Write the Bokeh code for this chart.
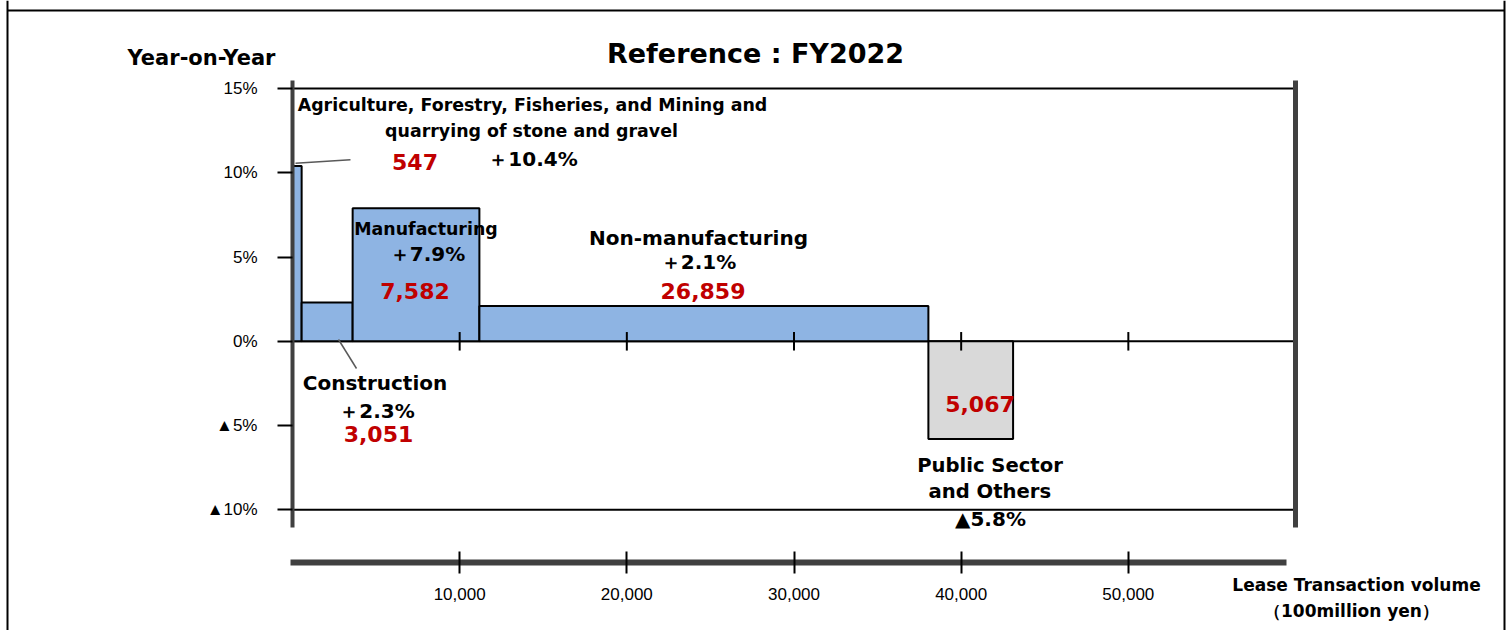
from bokeh.plotting import figure
from bokeh.models import ColumnDataSource, FixedTicker, LinearAxis, Range1d
from bokeh.core.properties import value
from bokeh.embed import file_html
from bokeh.resources import INLINE

# ---------------- data ----------------
categories = ["Agriculture, Forestry, Fisheries, and Mining and quarrying of stone and gravel",
              "Construction", "Manufacturing", "Non-manufacturing", "Public Sector and Others"]
volumes = [547, 3051, 7582, 26859, 5067]          # 100 million yen
yoy = [10.4, 2.3, 7.9, 2.1, -5.8]                  # % year-on-year
bar_colors = ["#8EB4E3", "#8EB4E3", "#8EB4E3", "#8EB4E3", "#D9D9D9"]

y_ticks = [-10, -5, 0, 5, 10, 15]
y_tick_labels = ["▲10%", "▲5%", "0%", "5%", "10%", "15%"]
x_ticks = [10000, 20000, 30000, 40000, 50000]
x_tick_labels = ["10,000", "20,000", "30,000", "40,000", "50,000"]
ref_lines = [15, 0, -10]

title_text = "Reference : FY2022"
y_title = "Year-on-Year"
x_title = ["Lease Transaction volume", "（100million yen）"]

# ---------------- layout (page pixels) ----------------
W, H = 1506, 630
X0_PX, X_END_PX = 292, 1295          # pixel of x = 0 and x = 60000
X_MAX = 60000
ZERO_PX, PX_PER_PCT = 340.8, 16.852  # pixel of 0 %, pixels per 1 %
X_PER_PX = X_MAX / (X_END_PX - X0_PX)


def dx(px):
    return (px - X0_PX) * X_PER_PX


def dy(py):
    return (ZERO_PX - py) / PX_PER_PCT


lefts, rights = [], []
acc = 0
for v in volumes:
    lefts.append(acc)
    acc += v
    rights.append(acc)

bars = ColumnDataSource(dict(left=lefts, right=rights, top=yoy, bottom=[0] * len(yoy),
                             color=bar_colors, name=categories))

p = figure(width=W, height=H, x_range=Range1d(dx(0), dx(W)), y_range=Range1d(dy(H), dy(0)),
           output_backend="svg", toolbar_location=None, x_axis_type=None, y_axis_type=None,
           min_border=0)
p.title.visible = False
p.outline_line_color = None
p.background_fill_color = "white"
p.border_fill_color = "white"

# outer frame of the slide
p.segment(x0=[dx(7), dx(7), dx(1504)], y0=[dy(10), dy(0), dy(0)],
          x1=[dx(1504), dx(7), dx(1504)], y1=[dy(10), dy(H), dy(H)],
          line_color="black", line_width=2)

# horizontal reference lines at 15 %, 0 %, -10 %
p.segment(x0=[0] * 3, x1=[X_MAX] * 3, y0=ref_lines, y1=ref_lines,
          line_color="black", line_width=2)

TICK_FONT = "Liberation Sans"
AX_COLOR = "#404040"
y_line_bounds = (dy(527), dy(80))

left_axis = LinearAxis(fixed_location=0, ticker=FixedTicker(ticks=y_ticks),
                       major_label_overrides={k: v for k, v in zip(y_ticks, y_tick_labels)},
                       bounds=y_line_bounds,
                       axis_line_color=AX_COLOR, axis_line_width=4,
                       major_tick_line_color="black", major_tick_line_width=2,
                       major_tick_in=0, major_tick_out=15, minor_tick_line_color=None,
                       major_label_standoff=20, major_label_text_font=TICK_FONT,
                       major_label_text_font_size="17px", major_label_text_color="black")
p.add_layout(left_axis, "left")

right_axis = LinearAxis(fixed_location=X_MAX, ticker=FixedTicker(ticks=[]), bounds=y_line_bounds,
                        axis_line_color=AX_COLOR, axis_line_width=5,
                        major_tick_line_color=None, minor_tick_line_color=None,
                        major_label_text_font_size="0px")
p.add_layout(right_axis, "right")

bottom_axis = LinearAxis(fixed_location=dy(562), ticker=FixedTicker(ticks=x_ticks),
                         major_label_overrides={k: v for k, v in zip(x_ticks, x_tick_labels)},
                         bounds=(dx(290), dx(1286)),
                         axis_line_color=AX_COLOR, axis_line_width=6,
                         major_tick_line_color="black", major_tick_line_width=2,
                         major_tick_in=11, major_tick_out=11, minor_tick_line_color=None,
                         major_label_standoff=14, major_label_text_font=TICK_FONT,
                         major_label_text_font_size="17px", major_label_text_color="black")
p.add_layout(bottom_axis, "below")

# bars (width = volume, height = year-on-year change)
p.quad(left="left", right="right", bottom="bottom", top="top", fill_color="color",
       line_color="black", line_width=2, source=bars)

# tick marks on the 0 % line
p.segment(x0=x_ticks, y0=[-0.55] * len(x_ticks), x1=x_ticks, y1=[0.55] * len(x_ticks),
          line_color="black", line_width=2)

# leader lines
p.segment(x0=[dx(295), dx(338)], y0=[dy(162.7), dy(339)],
          x1=[dx(350), dx(356)], y1=[dy(159.3), dy(368)],
          line_color="#595959", line_width=1.5)


def pct(v):
    return ("＋" if v >= 0 else "▲") + f"{abs(v):.1f}%"


RED = "#C00000"
texts, xs, ys, sizes, colors = [], [], [], [], []


def add(t, px, py, size, color="black"):
    texts.append(t)
    xs.append(dx(px))
    ys.append(dy(py))
    sizes.append(size)
    colors.append(color)


add(title_text, 755, 53, "27px")
add(y_title, 201, 57, "21px")
add(x_title[0], 1356, 584, "17px")
add(x_title[1], 1351, 610, "17px")
# Agriculture ...
add("Agriculture, Forestry, Fisheries, and Mining and", 532, 104, "17.4px")
add("quarrying of stone and gravel", 531, 130, "17.4px")
add(f"{volumes[0]:,}", 414.5, 161.7, "22px", RED)
add(pct(yoy[0]), 532.5, 158, "20px")
# Manufacturing
add("Manufacturing", 425.5, 228, "17.4px")
add(pct(yoy[2]), 427, 253.5, "20px")
add(f"{volumes[2]:,}", 414.5, 290, "22px", RED)
# Non-manufacturing
add("Non-manufacturing", 698, 237, "20px")
add(pct(yoy[3]), 698, 261.7, "20px")
add(f"{volumes[3]:,}", 702.5, 290, "22px", RED)
# Construction
add("Construction", 374.5, 382, "20px")
add(pct(yoy[1]), 376.5, 410, "20px")
add(f"{volumes[1]:,}", 378, 433.3, "22px", RED)
# Public sector
add(f"{volumes[4]:,}", 979.5, 403.3, "22px", RED)
add("Public Sector", 989.5, 464.7, "19.6px")
add("and Others", 989.3, 491, "19.6px")
add(pct(yoy[4]), 990, 518, "20px")

tsrc = ColumnDataSource(dict(x=xs, y=ys, text=texts, size=sizes, color=colors))
p.text(x="x", y="y", text="text", source=tsrc, text_font=value("DejaVu Sans"),
       text_font_style="bold", text_font_size="size", text_color="color",
       text_align="center", text_baseline="middle")

open("out.html", "w").write(file_html(p, INLINE))
